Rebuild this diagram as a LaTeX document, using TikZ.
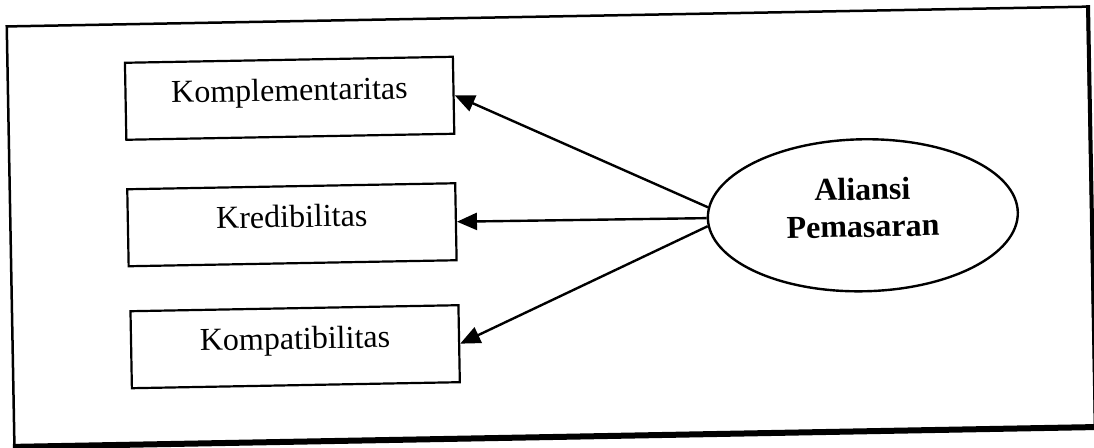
\documentclass[tikz,border=0pt]{standalone}
\usepackage{fontspec}
\setmainfont{Liberation Serif}
\usetikzlibrary{shapes.geometric,arrows.meta}
\begin{document}
\begin{tikzpicture}[x=1pt,y=-1pt,
  box/.style={draw, line width=2.2pt, minimum width=328pt, minimum height=77pt,
    inner sep=0pt, text height=22pt, text depth=17pt,
    font=\fontsize{32}{37}\selectfont},
  link/.style={line width=2.4pt, -{Triangle[length=20pt,width=17pt]}},
  frameline/.style={line width=2.5pt}
]
\useasboundingbox (0,0) rectangle (1094,447);
\begin{scope}[rotate around={1.05:(551,227)}, transform shape]
  \draw[frameline] (10.5,16.5) rectangle (1091.5,436);
  \draw[line width=6pt] (9,437) -- (1096,437);
  \draw[line width=4pt] (1092,15) -- (1092,437);
  \node[box] (b1) at (292,93.5) {Komplementaritas};
  \node[box] (b2) at (292,220) {Kredibilitas};
  \node[box] (b3) at (293,342) {Kompatibilitas};
  \node[ellipse, draw, line width=2.4pt, minimum width=310pt, minimum height=152pt,
    inner sep=0pt] (ell) at (863,221) {};
  \node[font=\fontsize{32}{37}\selectfont\bfseries, align=center, inner sep=0pt]
    (elltext) at (863,213.3) {Aliansi\\Pemasaran};
  \draw[link] (ell.176.5) -- (b1.east);
  \draw[link] (ell.west) -- (b2.east);
  \draw[link] (ell.183.5) -- (b3.east);
\end{scope}
\end{tikzpicture}
\end{document}
